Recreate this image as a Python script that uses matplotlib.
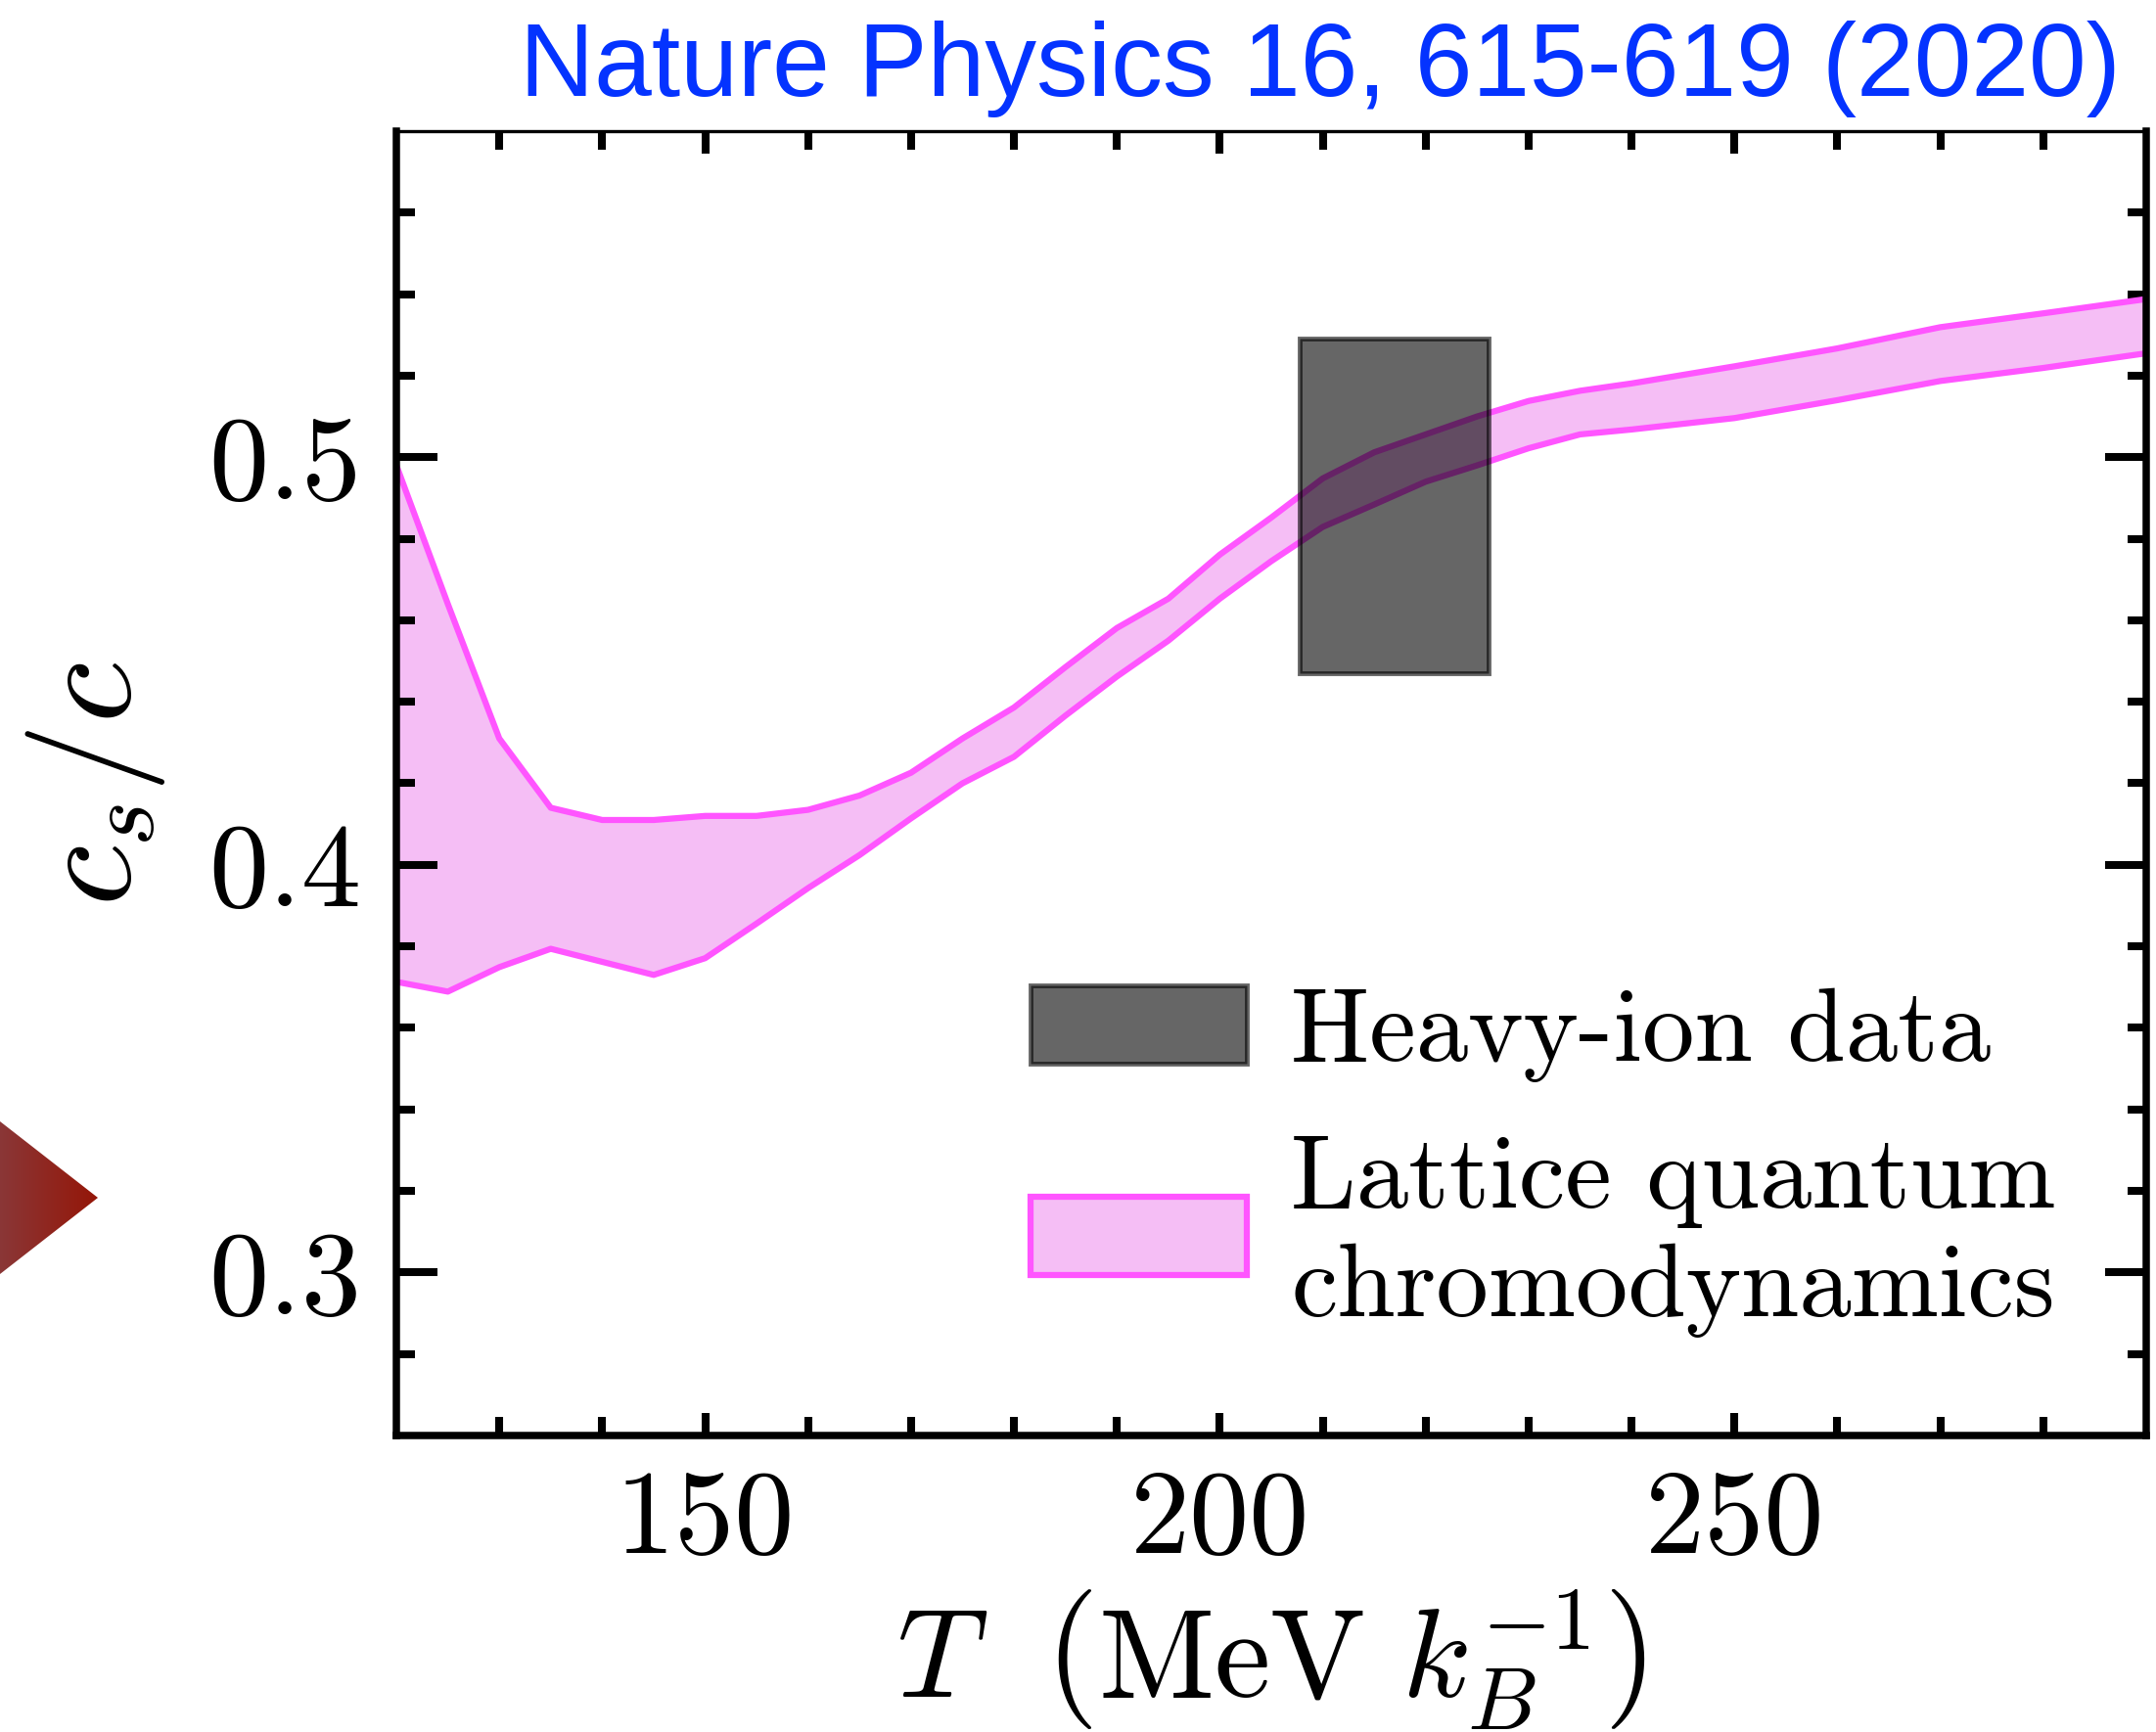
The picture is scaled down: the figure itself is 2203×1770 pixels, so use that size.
import numpy as np
import matplotlib.pyplot as plt
from matplotlib.patches import Rectangle, Patch, Polygon

plt.rcParams['font.family'] = 'serif'
plt.rcParams['font.serif'] = ['cmr10']
plt.rcParams['mathtext.fontset'] = 'cm'
plt.rcParams['axes.unicode_minus'] = False
plt.rcParams['axes.formatter.use_mathtext'] = True

# lattice QCD band for the speed of sound (lower / upper edge)
T = [120, 125, 130, 135, 140, 145, 150, 155, 160, 165, 170, 175, 180, 185, 190,
     195, 200, 205, 210, 215, 220, 225, 230, 235, 240, 250, 260, 270, 280, 290]
cs_upper = [0.498, 0.464, 0.431, 0.414, 0.411, 0.411, 0.412, 0.412, 0.4135, 0.417,
            0.4226, 0.431, 0.4386, 0.4485, 0.4581, 0.4653, 0.4761, 0.4852, 0.4948,
            0.5012, 0.5056, 0.510, 0.5138, 0.5163, 0.5181, 0.5223, 0.5267, 0.5319,
            0.5353, 0.5388]
cs_lower = [0.3713, 0.3689, 0.3749, 0.3794, 0.3762, 0.373, 0.3771, 0.3856, 0.3943,
            0.4024, 0.4114, 0.420, 0.4265, 0.4366, 0.4462, 0.455, 0.4653, 0.4745,
            0.4829, 0.4884, 0.494, 0.498, 0.5022, 0.5056, 0.5068, 0.5096, 0.514,
            0.5187, 0.5219, 0.5255]

# heavy-ion extraction: temperature range and c_s range
heavy_T = [207.8, 226.1]
heavy_cs = [0.447, 0.529]

xtick_vals = [150, 200, 250]
xtick_labels = ['150', '200', '250']
ytick_vals = [0.3, 0.4, 0.5]
ytick_labels = ['0.3', '0.4', '0.5']
legend_labels = ['Heavy-ion data', 'Lattice quantum\nchromodynamics']

W, H = 2203, 1770
fig = plt.figure(figsize=(W / 100, H / 100), dpi=100)
ax = fig.add_axes([405 / W, (H - 1467) / H, (2193 - 405) / W, (1467 - 134) / H])

pink = '#f5bef5'
magenta = '#ff55ff'
ax.fill_between(T, cs_lower, cs_upper, facecolor=pink, edgecolor='none', zorder=1)
ax.plot(T, cs_upper, color=magenta, lw=4.5, zorder=2)
ax.plot(T, cs_lower, color=magenta, lw=4.5, zorder=2)
ax.add_patch(Rectangle((heavy_T[0], heavy_cs[0]), heavy_T[1] - heavy_T[0],
                       heavy_cs[1] - heavy_cs[0], facecolor='black',
                       edgecolor='black', alpha=0.6, lw=3.5, zorder=3))

ax.set_xlim(120, 290)
ax.set_ylim(0.26, 0.58)
ax.set_xticks(xtick_vals, xtick_labels)
ax.set_xticks(np.arange(130, 290, 10), minor=True)
ax.set_yticks(ytick_vals, ytick_labels)
ax.set_yticks(np.arange(0.28, 0.58, 0.02), minor=True)

ax.tick_params(which='both', direction='in', top=True, right=True, width=5.8,
               labelsize=88)
ax.tick_params(axis='x', which='major', length=16.5, pad=25)
ax.tick_params(axis='x', which='minor', length=13.7)
ax.tick_params(axis='y', which='major', length=30, pad=26)
ax.tick_params(axis='y', which='minor', length=13.7)
for side in ['left', 'right', 'bottom']:
    ax.spines[side].set_linewidth(5.4)
ax.spines['top'].set_linewidth(2.4)

ax.set_xlabel(r'$T\ \ \left(\mathrm{MeV}\ k_B^{-1}\right)$', fontsize=93, labelpad=8)
ax.set_ylabel(r'$c_s/c$', fontsize=102, labelpad=30)

handles = [Patch(facecolor='black', edgecolor='black', alpha=0.6, lw=3.5),
           Patch(facecolor=pink, edgecolor=magenta, lw=4.5)]
ax.legend(handles, legend_labels, loc='upper left',
          bbox_to_anchor=(1053 / W, 1 - 1007 / H), bbox_transform=fig.transFigure,
          frameon=False, fontsize=77, handlelength=2.07, handleheight=0.78,
          handletextpad=0.42, borderpad=0, borderaxespad=0, labelspacing=0.5)

fig.text(2167 / W, 1 - 98 / H, 'Nature Physics 16, 615-619 (2020)', ha='right',
         va='baseline', color='#0433ff', fontsize=76, family='Liberation Sans')

# red arrow head at the left edge, shaded left to right
tri_ax = fig.add_axes([0, 1 - 1302 / H, 100 / W, 156 / H])
tri_ax.axis('off')
c0 = np.array([0x8a, 0x37, 0x37]) / 255
c1 = np.array([0x95, 0x16, 0x08]) / 255
grad = np.linspace(0, 1, 256)[None, :, None]
tri_ax.imshow(c0 + (c1 - c0) * grad, extent=[0, 1, 0, 1], aspect='auto')
tri = Polygon([(0, 1), (1, 0.5), (0, 0)], closed=True, transform=tri_ax.transAxes,
              facecolor='none', edgecolor='none')
tri_ax.add_patch(tri)
tri_ax.images[0].set_clip_path(tri)

fig.savefig('out.png', dpi=100)
